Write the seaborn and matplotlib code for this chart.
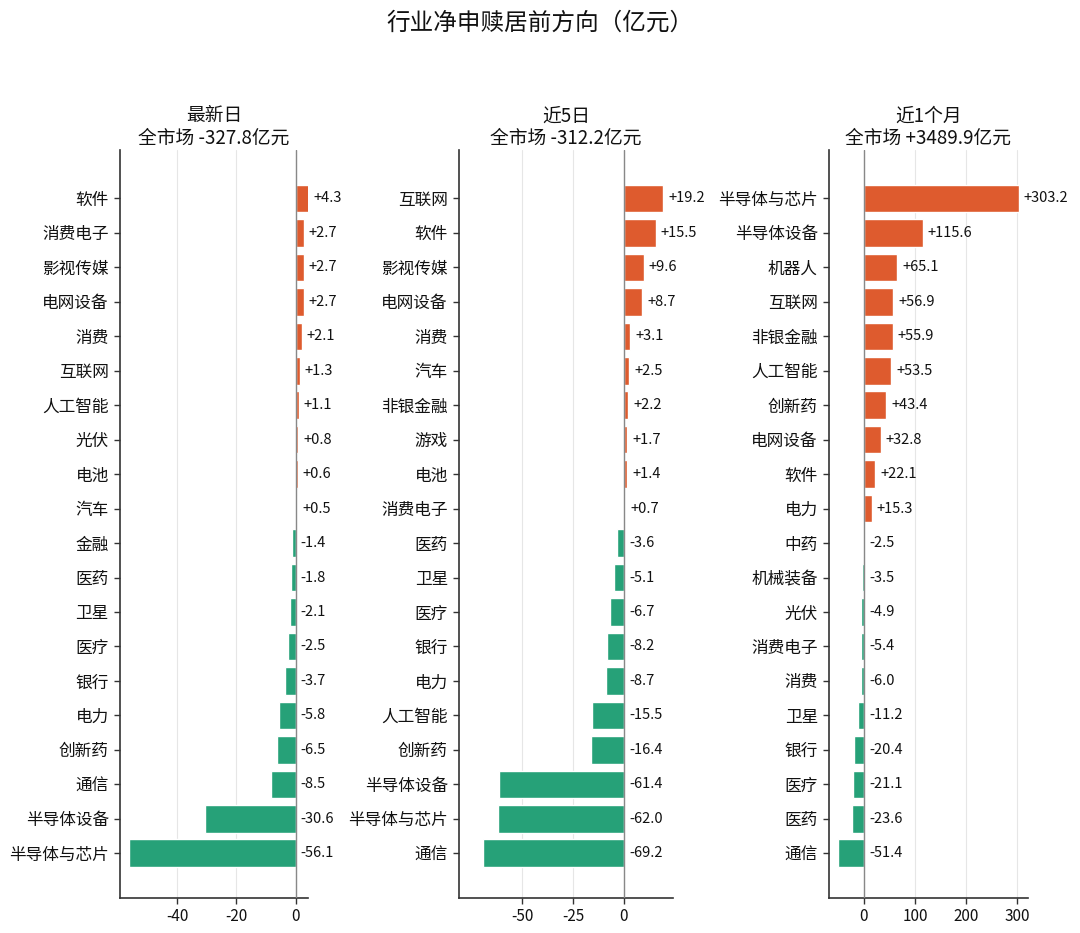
import matplotlib
matplotlib.use("Agg")
import matplotlib.pyplot as plt
import seaborn as sns
import pandas as pd

sns.set_theme(style="white")
plt.rcParams['font.family'] = ['Noto Sans CJK SC', 'DejaVu Sans']
plt.rcParams['axes.unicode_minus'] = False

title = "行业净申赎居前方向（亿元）"

p1_title = "最新日\n全市场 -327.8亿元"
p1_cats = ["软件", "消费电子", "影视传媒", "电网设备", "消费", "互联网", "人工智能", "光伏", "电池", "汽车",
           "金融", "医药", "卫星", "医疗", "银行", "电力", "创新药", "通信", "半导体设备", "半导体与芯片"]
p1_vals = [4.3, 2.7, 2.7, 2.7, 2.1, 1.3, 1.1, 0.8, 0.6, 0.5,
           -1.4, -1.8, -2.1, -2.5, -3.7, -5.8, -6.5, -8.5, -30.6, -56.1]
p1_ticks = [-40, -20, 0]

p2_title = "近5日\n全市场 -312.2亿元"
p2_cats = ["互联网", "软件", "影视传媒", "电网设备", "消费", "汽车", "非银金融", "游戏", "电池", "消费电子",
           "医药", "卫星", "医疗", "银行", "电力", "人工智能", "创新药", "半导体设备", "半导体与芯片", "通信"]
p2_vals = [19.2, 15.5, 9.6, 8.7, 3.1, 2.5, 2.2, 1.7, 1.4, 0.7,
           -3.6, -5.1, -6.7, -8.2, -8.7, -15.5, -16.4, -61.4, -62.0, -69.2]
p2_ticks = [-50, -25, 0]

p3_title = "近1个月\n全市场 +3489.9亿元"
p3_cats = ["半导体与芯片", "半导体设备", "机器人", "互联网", "非银金融", "人工智能", "创新药", "电网设备", "软件", "电力",
           "中药", "机械装备", "光伏", "消费电子", "消费", "卫星", "银行", "医疗", "医药", "通信"]
p3_vals = [303.2, 115.6, 65.1, 56.9, 55.9, 53.5, 43.4, 32.8, 22.1, 15.3,
           -2.5, -3.5, -4.9, -5.4, -6.0, -11.2, -20.4, -21.1, -23.6, -51.4]
p3_ticks = [0, 100, 200, 300]

POS = "#DE5B2E"
NEG = "#26A178"

panels = [
    (p1_title, p1_cats, p1_vals, p1_ticks, (-59.2, 4.0), [0.111, 0.0375, 0.174, 0.8015]),
    (p2_title, p2_cats, p2_vals, p2_ticks, (-81.0, 24.0), [0.425, 0.0375, 0.198, 0.8015]),
    (p3_title, p3_cats, p3_vals, p3_ticks, (-68.6, 321.0), [0.7676, 0.0375, 0.184, 0.8015]),
]

fig = plt.figure(figsize=(10.8, 9.33), dpi=100)
fig.suptitle(title, fontsize=17, y=0.988, x=0.5, color="#111111")

for ptitle, cats, vals, ticks, xlim, rect in panels:
    ax = fig.add_axes(rect)
    df = pd.DataFrame({"cat": cats, "val": vals})
    colors = [POS if v > 0 else NEG for v in vals]
    sns.barplot(data=df, x="val", y="cat", hue="cat", palette=colors, legend=False,
                orient="h", width=0.8, saturation=1, ax=ax, zorder=3)
    ax.set_xlim(*xlim)
    ax.set_ylim(19 + 1.3, -1.4)
    ax.set_xticks(ticks)
    ax.set_xticklabels([str(t) for t in ticks], fontsize=11, color="#111111")
    ax.tick_params(axis="y", labelsize=12, labelcolor="#111111", length=4, width=1, color="#333333", left=True, pad=4)
    ax.tick_params(axis="x", length=4, width=1, color="#333333", bottom=True)
    ax.set_xlabel("")
    ax.set_ylabel("")
    for sp in ["top", "right"]:
        ax.spines[sp].set_visible(False)
    for sp in ["left", "bottom"]:
        ax.spines[sp].set_color("#333333")
        ax.spines[sp].set_linewidth(1.2)
    ax.grid(axis="x", color="#e6e6e6", linewidth=0.8, zorder=0)
    ax.set_axisbelow(True)
    ax.axvline(0, color="#888888", linewidth=1.0, zorder=4)
    span = xlim[1] - xlim[0]
    for i, v in enumerate(vals):
        xpos = max(v, 0) + span * 0.025
        txt = f"+{v:.1f}" if v > 0 else f"{v:.1f}"
        ax.text(xpos, i, txt, va="center", ha="left", fontsize=10.5, color="#111111", zorder=5)
    ax.set_title(ptitle, fontsize=13.5, pad=5, linespacing=1.05, color="#111111")

fig.savefig("out.png", dpi=100)
